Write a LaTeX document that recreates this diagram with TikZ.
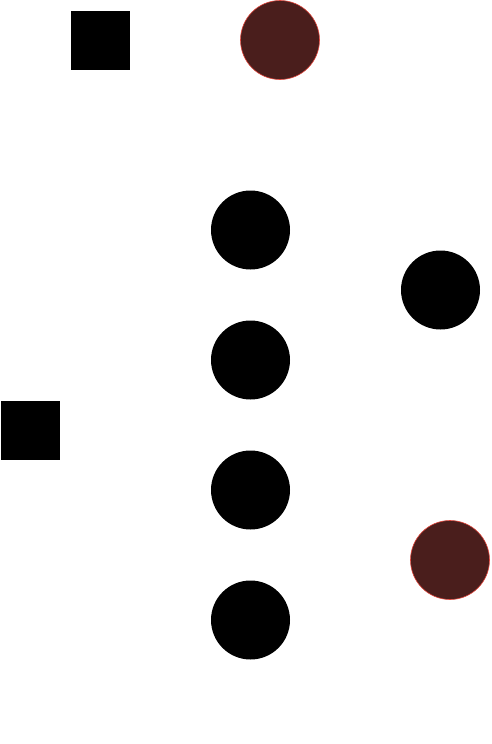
\documentclass[tikz,border=0pt]{standalone}
\definecolor{darkmaroon}{RGB}{74,30,28}
\definecolor{rimred}{RGB}{225,70,60}
\tikzset{
  sq/.style={fill=black, draw=none, minimum size=59pt, inner sep=0pt},
  dot/.style={fill=black, draw=none, circle, minimum size=79pt, inner sep=0pt},
  red dot/.style={fill=darkmaroon, draw=rimred, line width=0.6pt, circle, minimum size=79pt, inner sep=0pt}
}
\begin{document}
\begin{tikzpicture}[x=1pt, y=-1pt]
\useasboundingbox (0,0) rectangle (491,744);
\node[sq] (1) at (100.5,40.5) {};
\node[sq] (2) at (30.5,430.5) {};
\node[red dot] (3) at (280,40) {};
\node[red dot] (4) at (450,560) {};
\node[dot] (5) at (250.5,230) {};
\node[dot] (6) at (250.5,360) {};
\node[dot] (7) at (250.5,490) {};
\node[dot] (8) at (250.5,620) {};
\node[dot] (9) at (440.5,290) {};
\end{tikzpicture}
\end{document}
